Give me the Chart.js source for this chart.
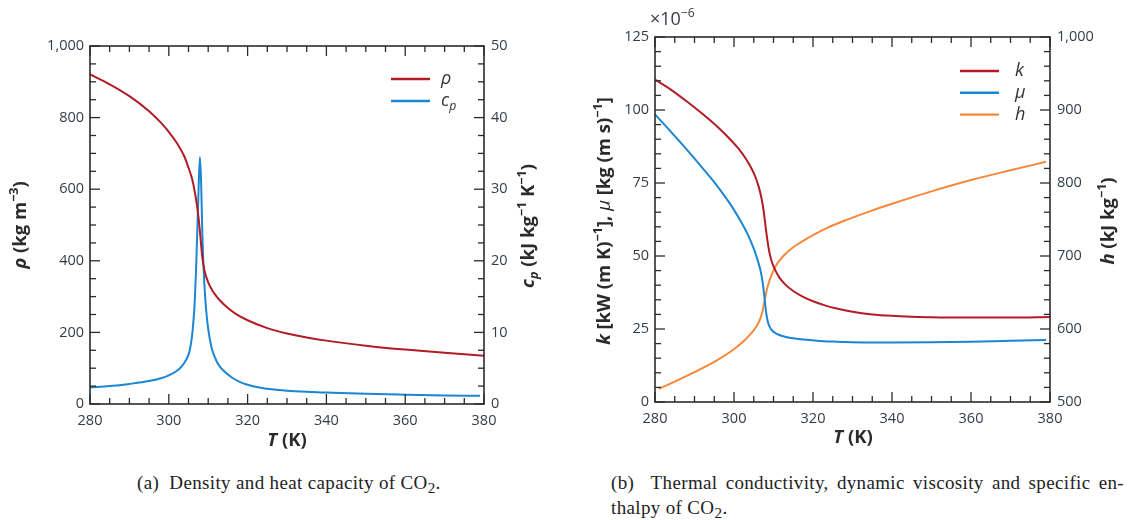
<!DOCTYPE html>
<html>
<head>
<meta charset="utf-8">
<title>CO2 properties near the critical point</title>
<script src="https://cdn.jsdelivr.net/npm/chart.js@4.4.1/dist/chart.umd.min.js"></script>
<style>
  html, body { margin: 0; padding: 0; background: #fff; }
  body { width: 1133px; height: 520px; position: relative; overflow: hidden; }
  .pane { position: absolute; top: 0; height: 460px; }
  #paneA { left: 0; width: 566px; }
  #paneB { left: 566px; width: 567px; }
  .cap { position: absolute; font-family: "Liberation Serif", serif; font-size: 19px; letter-spacing: 0.35px; color: #222; line-height: 25px; white-space: nowrap; }
  .cap sub { font-size: 0.8em; vertical-align: -0.25em; line-height: 0; }
  .just { width: 513px; text-align: justify; text-align-last: justify; }
</style>
</head>
<body>
<div class="pane" id="paneA"><canvas id="chartA" width="566" height="460"></canvas></div>
<div class="pane" id="paneB"><canvas id="chartB" width="567" height="460"></canvas></div>
<div class="cap" style="left:137px; top:470px;">(a)&nbsp;&nbsp;Density and heat capacity of CO<sub>2</sub>.</div>
<div class="cap just" style="left:611px; top:470px;">(b)&nbsp;&nbsp;Thermal conductivity, dynamic viscosity and specific en-</div>
<div class="cap" style="left:611px; top:495px;">thalpy of CO<sub>2</sub>.</div>

<script>
// ---- (a) density and isobaric heat capacity ----
const tempRho = [280, 285, 290, 295, 298, 300, 302, 304, 305, 306, 307, 307.5, 308, 308.5, 309, 310, 311, 312, 313, 315, 317, 320, 325, 330, 335, 340, 350, 360, 370, 380];
const rho     = [921, 893, 860, 818, 786, 760, 730, 690, 660, 625, 566, 525, 470, 410, 375, 340, 318, 302, 289, 268, 252, 234, 212, 197, 186, 177, 163, 152, 143, 135];

const tempCp = [280, 285, 290, 295, 298, 300, 302, 303, 304, 305, 305.5, 306, 306.5, 307, 307.5, 307.9, 308.2, 308.5, 309, 309.5, 310, 310.8, 311.5, 312.5, 314, 316, 318, 320, 323, 326, 330, 335, 340, 350, 360, 370, 379];
const cp     = [2.3, 2.5, 2.8, 3.2, 3.6, 4.0, 4.6, 5.1, 5.8, 6.9, 8.0, 10, 13.5, 20, 29, 34.5, 31, 24, 17, 13, 10.5, 8, 6.8, 5.6, 4.6, 3.7, 3.1, 2.7, 2.3, 2.05, 1.85, 1.7, 1.6, 1.42, 1.3, 1.2, 1.15];

// ---- (b) thermal conductivity, viscosity (x1e-6) and enthalpy ----
const tempK = [280, 284, 288, 292, 296, 299, 301, 303, 304.5, 305.5, 306.3, 307, 307.5, 308, 308.5, 309, 309.7, 310.5, 311.5, 313, 315, 317.5, 320, 323, 326, 330, 335, 340, 345, 350, 360, 370, 380];
const kCond = [110.4, 107, 103, 98.7, 94, 90, 87, 83.3, 79.8, 76.8, 73.5, 69.5, 65.5, 60, 55, 51, 47.5, 45, 42.6, 40.2, 38, 36, 34.5, 33.1, 32, 30.9, 30, 29.5, 29.2, 29, 28.9, 28.9, 29.1];

const tempMu = [280, 284, 288, 292, 295, 298, 300, 302, 303.5, 305, 306, 306.8, 307.3, 307.7, 308.1, 308.5, 309, 309.7, 310.5, 312, 314, 317, 321, 325, 330, 335, 340, 350, 360, 370, 379];
const mu     = [98.5, 92.6, 86.5, 80.2, 75.3, 69.8, 65.8, 61.2, 57.3, 52.5, 48.5, 44.5, 40.5, 36, 31, 27.8, 25.8, 24.4, 23.6, 22.7, 22, 21.5, 21, 20.7, 20.45, 20.35, 20.35, 20.45, 20.65, 20.95, 21.25];

const tempH = [281, 285, 290, 295, 299, 302, 304, 305.5, 306.5, 307.2, 307.8, 308.4, 309.1, 310, 311, 312.5, 314.5, 317, 320, 324, 328.5, 334, 340, 350, 360, 370, 379];
const hEnth = [518, 528, 541, 555, 568.5, 581, 592, 602, 612, 624, 640, 656, 668, 680, 690, 700, 710, 719, 728.5, 739.5, 749.5, 760.5, 771.5, 788.5, 804, 817.5, 829];

const tempTicks = { min: 280, max: 380, major: 20, minor: 5 };

const RED = '#b31b25', BLUE = '#1b86d2', ORANGE = '#f7873a';
const SANS = '"Open Sans", "DejaVu Sans", sans-serif';
const TICK_COLOR = '#333c4a';
const INK = '#2b2b2b';

function pts(xs, ys) { return xs.map((x, i) => ({ x: x, y: ys[i] })); }

// draw a run of mixed-style text (italic symbols, super/subscripts)
function drawRich(ctx, segs, x, y, o) {
  const size = o.size, fam = o.family || SANS;
  const fontOf = s => (s.i ? 'italic ' : '') + (s.b ? 'bold ' : '') + ((s.sup || s.sub) ? size * 0.68 : size) + 'px ' + fam;
  ctx.save();
  ctx.translate(x, y);
  if (o.rot) ctx.rotate(o.rot);
  ctx.fillStyle = o.color || INK;
  ctx.textBaseline = 'middle';
  ctx.textAlign = 'left';
  let w = 0;
  segs.forEach(s => { ctx.font = fontOf(s); w += ctx.measureText(s.t).width; });
  let cx = o.align === 'left' ? 0 : -w / 2;
  segs.forEach(s => {
    ctx.font = fontOf(s);
    const dy = s.sup ? -size * 0.36 : (s.sub ? size * 0.28 : 0);
    ctx.fillText(s.t, cx, dy);
    cx += ctx.measureText(s.t).width;
  });
  ctx.restore();
}

// frame, inward tick marks, axis titles and the in-plot legend
const framePlugin = {
  id: 'frame',
  afterDatasetsDraw(chart, args, opts) {
    const ctx = chart.ctx, a = chart.chartArea;
    ctx.save();
    ctx.strokeStyle = INK;
    ctx.lineWidth = 1.3;
    const mark = (scaleId, spec, side) => {
      const sc = chart.scales[scaleId];
      const n = Math.round((spec.max - spec.min) / spec.minor);
      for (let j = 0; j <= n; j++) {
        const v = spec.min + j * spec.minor;
        const r = (v - spec.min) / spec.major;
        const len = Math.abs(r - Math.round(r)) < 1e-6 ? 10 : 6;
        const p = sc.getPixelForValue(v);
        ctx.beginPath();
        if (side === 'bottom') { ctx.moveTo(p, a.bottom); ctx.lineTo(p, a.bottom - len); }
        if (side === 'top')    { ctx.moveTo(p, a.top);    ctx.lineTo(p, a.top + len); }
        if (side === 'left')   { ctx.moveTo(a.left, p);   ctx.lineTo(a.left + len, p); }
        if (side === 'right')  { ctx.moveTo(a.right, p);  ctx.lineTo(a.right - len, p); }
        ctx.stroke();
      }
    };
    mark('x', tempTicks, 'bottom');
    mark('x', tempTicks, 'top');
    mark('yL', opts.left, 'left');
    mark('yR', opts.right, 'right');
    ctx.lineWidth = 1.6;
    ctx.strokeRect(a.left, a.top, a.right - a.left, a.bottom - a.top);
    ctx.restore();

    (opts.titles || []).forEach(t => drawRich(ctx, t.segs, t.x, t.y, t));

    const lg = opts.legend;
    chart.data.datasets.forEach((ds, i) => {
      const y = lg.y + i * lg.gap;
      ctx.save();
      ctx.strokeStyle = ds.borderColor;
      ctx.lineWidth = 2.4;
      ctx.beginPath();
      ctx.moveTo(lg.x, y);
      ctx.lineTo(lg.x + lg.len, y);
      ctx.stroke();
      ctx.restore();
      drawRich(ctx, lg.labels[i], lg.x + lg.len + lg.space, y, { size: 18, align: 'left', color: '#333' });
    });
  }
};

function baseScales(xH, lW, rW, left, right) {
  const tickFont = { family: SANS, size: 14.5 };
  return {
    x: {
      type: 'linear', min: tempTicks.min, max: tempTicks.max,
      ticks: { stepSize: tempTicks.major, color: TICK_COLOR, font: tickFont, padding: 8, maxRotation: 0 },
      grid: { display: false, drawTicks: false }, border: { display: false },
      afterFit: s => { s.height = xH; }
    },
    yL: {
      type: 'linear', position: 'left', min: left.min, max: left.max,
      ticks: { stepSize: left.major, color: TICK_COLOR, font: tickFont, padding: 6 },
      grid: { display: false, drawTicks: false }, border: { display: false },
      afterFit: s => { s.width = lW; }
    },
    yR: {
      type: 'linear', position: 'right', min: right.min, max: right.max,
      ticks: { stepSize: right.major, color: TICK_COLOR, font: tickFont, padding: 7 },
      grid: { display: false, drawTicks: false }, border: { display: false },
      afterFit: s => { s.width = rW; }
    }
  };
}

const lineStyle = { pointRadius: 0, borderWidth: 2, fill: false, cubicInterpolationMode: 'monotone' };
const TITLE = 18.5;

// ---------- chart (a) ----------
const rhoAxis = { min: 0, max: 1000, major: 200, minor: 50 };
const cpAxis  = { min: 0, max: 50, major: 10, minor: 2.5 };
new Chart(document.getElementById('chartA'), {
  type: 'line',
  data: {
    datasets: [
      Object.assign({ label: 'ρ', data: pts(tempRho, rho), borderColor: RED, yAxisID: 'yL' }, lineStyle),
      Object.assign({ label: 'cp', data: pts(tempCp, cp), borderColor: BLUE, yAxisID: 'yR' }, lineStyle)
    ]
  },
  options: {
    responsive: false, animation: false,
    layout: { padding: { top: 46, left: 0, right: 0, bottom: 0 } },
    scales: baseScales(56, 90, 82, rhoAxis, cpAxis),
    plugins: {
      legend: { display: false }, tooltip: { enabled: false },
      frame: {
        left: rhoAxis, right: cpAxis,
        titles: [
          { segs: [{ t: 'ρ', b: 1, i: 1 }, { t: ' (kg m', b: 1 }, { t: '−3', b: 1, sup: 1 }, { t: ')', b: 1 }], x: 21, y: 225, size: TITLE, rot: -Math.PI / 2 },
          { segs: [{ t: 'c', b: 1, i: 1 }, { t: 'p', b: 1, i: 1, sub: 1 }, { t: ' (kJ kg', b: 1 }, { t: '−1', b: 1, sup: 1 }, { t: ' K', b: 1 }, { t: '−1', b: 1, sup: 1 }, { t: ')', b: 1 }], x: 529, y: 226, size: TITLE, rot: -Math.PI / 2 },
          { segs: [{ t: 'T', b: 1, i: 1 }, { t: ' (K)', b: 1 }], x: 287, y: 441, size: TITLE }
        ],
        legend: {
          x: 391, y: 79, gap: 22, len: 39, space: 11,
          labels: [[{ t: 'ρ', i: 1 }], [{ t: 'c', i: 1 }, { t: 'p', i: 1, sub: 1 }]]
        }
      }
    }
  },
  plugins: [framePlugin]
});

// ---------- chart (b) ----------
const kmuAxis = { min: 0, max: 125, major: 25, minor: 5 };
const hAxis   = { min: 500, max: 1000, major: 100, minor: 20 };
new Chart(document.getElementById('chartB'), {
  type: 'line',
  data: {
    datasets: [
      Object.assign({ label: 'k', data: pts(tempK, kCond), borderColor: RED, yAxisID: 'yL' }, lineStyle),
      Object.assign({ label: 'μ', data: pts(tempMu, mu), borderColor: BLUE, yAxisID: 'yL' }, lineStyle),
      Object.assign({ label: 'h', data: pts(tempH, hEnth), borderColor: ORANGE, yAxisID: 'yR' }, lineStyle)
    ]
  },
  options: {
    responsive: false, animation: false,
    layout: { padding: { top: 37, left: 0, right: 0, bottom: 0 } },
    scales: baseScales(58, 89, 83, kmuAxis, hAxis),
    plugins: {
      legend: { display: false }, tooltip: { enabled: false },
      frame: {
        left: kmuAxis, right: hAxis,
        titles: [
          { segs: [{ t: 'k', b: 1, i: 1 }, { t: ' [kW (m K)', b: 1 }, { t: '−1', b: 1, sup: 1 }, { t: '], ', b: 1 }, { t: 'μ', i: 1 }, { t: ' [kg (m s)', b: 1 }, { t: '−1', b: 1, sup: 1 }, { t: ']', b: 1 }], x: 39, y: 221, size: TITLE, rot: -Math.PI / 2 },
          { segs: [{ t: 'h', b: 1, i: 1 }, { t: ' (kJ kg', b: 1 }, { t: '−1', b: 1, sup: 1 }, { t: ')', b: 1 }], x: 543, y: 221, size: TITLE, rot: -Math.PI / 2 },
          { segs: [{ t: 'T', b: 1, i: 1 }, { t: ' (K)', b: 1 }], x: 287, y: 438, size: TITLE },
          { segs: [{ t: '×10' }, { t: '−6', sup: 1 }], x: 84, y: 20, size: 18, align: 'left', color: TICK_COLOR }
        ],
        legend: {
          x: 394, y: 71, gap: 21.8, len: 39, space: 16,
          labels: [[{ t: 'k', i: 1 }], [{ t: 'μ', i: 1 }], [{ t: 'h', i: 1 }]]
        }
      }
    }
  },
  plugins: [framePlugin]
});
</script>
</body>
</html>
